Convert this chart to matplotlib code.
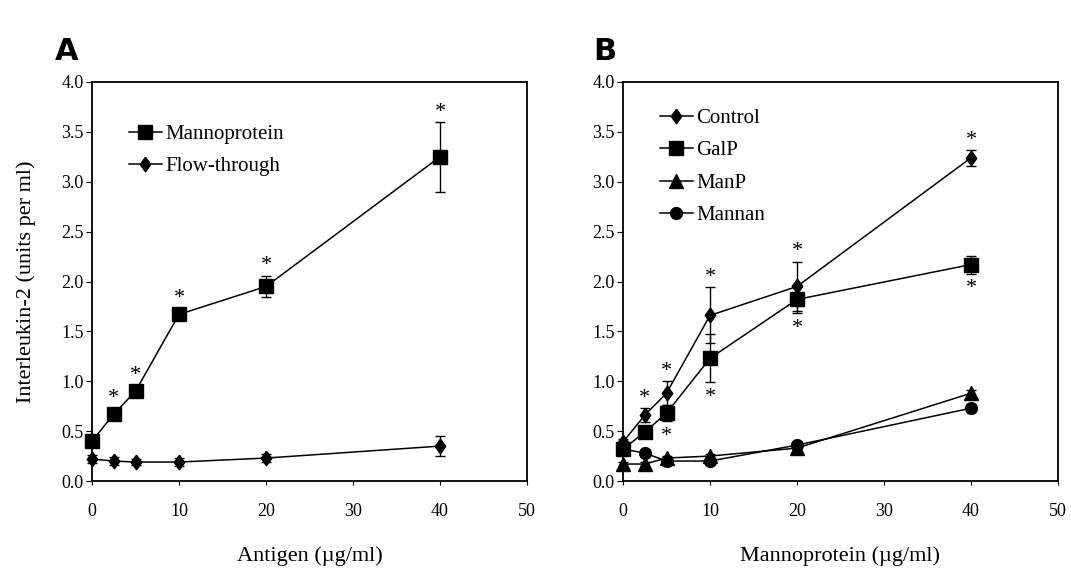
import matplotlib
matplotlib.use("Agg")
from matplotlib import pyplot as plt
from matplotlib import font_manager

conc = [0, 2.5, 5, 10, 20, 40]

# panel A
manno = [0.40, 0.67, 0.90, 1.67, 1.95, 3.25]
manno_err = [0.03, 0.04, 0.05, 0.03, 0.11, 0.35]
flow = [0.22, 0.20, 0.19, 0.19, 0.23, 0.35]
flow_err = [0.04, 0.04, 0.03, 0.04, 0.04, 0.10]
manno_star = [1, 2, 3, 4, 5]

# panel B
control = [0.39, 0.66, 0.88, 1.66, 1.95, 3.24]
control_err = [0.03, 0.07, 0.12, 0.28, 0.25, 0.08]
galp = [0.32, 0.49, 0.68, 1.23, 1.82, 2.17]
galp_err = [0.03, 0.04, 0.08, 0.24, 0.14, 0.09]
manp = [0.17, 0.17, 0.23, 0.25, 0.33, 0.88]
manp_err = [0.02, 0.02, 0.02, 0.02, 0.03, 0.03]
mannan = [0.32, 0.28, 0.20, 0.20, 0.36, 0.73]
mannan_err = [0.02, 0.03, 0.02, 0.03, 0.03, 0.04]
control_star = [1, 2, 3, 4, 5]
galp_star = [2, 3, 4, 5]

yticks = [0.0, 0.5, 1.0, 1.5, 2.0, 2.5, 3.0, 3.5, 4.0]
xticks = [0, 10, 20, 30, 40, 50]

plt.rcParams["font.family"] = ["Liberation Serif", "DejaVu Serif"]

# condensed bold sans for the panel letters, if there is one
names = {f.name for f in font_manager.fontManager.ttflist}
LETTER_FONT = ["Liberation Sans Narrow"] if "Liberation Sans Narrow" in names else ["DejaVu Sans"]

DIAMOND = [(0, 1), (0.72, 0), (0, -1), (-0.72, 0), (0, 1)]


def series(ax, y, err, marker, ms, label):
    ax.errorbar(conc, y, yerr=err, color="black", lw=1.1, marker=marker,
                ms=ms, capsize=3.5, elinewidth=1.0, capthick=1.0,
                label=label, clip_on=False)


def stars(ax, y, err, idx, above=True):
    for i in idx:
        if above:
            yy = max(y[i] + err[i], y[i] + 0.06)
            off = 7
        else:
            yy = min(y[i] - err[i], y[i] - 0.06)
            off = -11
        ax.annotate("*", (conc[i], yy), xytext=(0, off),
                    textcoords="offset points", ha="center", va="center",
                    fontsize=16)


def style(ax, xlabel, legend_at):
    ax.set_xlim(0, 50)
    ax.set_ylim(0, 4.0)
    ax.set_xticks(xticks)
    ax.set_yticks(yticks)
    ax.set_yticklabels([f"{v:.1f}" for v in yticks])
    ax.tick_params(axis="x", direction="out", length=3, pad=13, labelsize=13)
    ax.tick_params(axis="y", direction="out", length=4, pad=2, labelsize=13)
    for s in ax.spines.values():
        s.set_linewidth(1.3)
    ax.set_xlabel(xlabel, fontsize=16, labelpad=19)
    handles, labels = ax.get_legend_handles_labels()
    handles = [h[0] for h in handles]
    ax.legend(handles, labels, loc="upper left", bbox_to_anchor=legend_at,
              frameon=False, fontsize=15, handlelength=1.6,
              handletextpad=0.15, labelspacing=0.62, borderaxespad=0)


fig = plt.figure(figsize=(10.71, 5.70), dpi=100)
axA = fig.add_axes([92 / 1071, 89 / 570, 435 / 1071, 399 / 570])
axB = fig.add_axes([623 / 1071, 89 / 570, 435 / 1071, 399 / 570])

series(axA, manno, manno_err, "s", 9.5, "Mannoprotein")
series(axA, flow, flow_err, DIAMOND, 10.5, "Flow-through")
stars(axA, manno, manno_err, manno_star)
style(axA, "Antigen (\u00b5g/ml)", (0.065, 0.915))
axA.set_ylabel("Interleukin-2 (units per ml)", fontsize=16, labelpad=18)

series(axB, control, control_err, DIAMOND, 10.5, "Control")
series(axB, galp, galp_err, "s", 9.5, "GalP")
series(axB, manp, manp_err, "^", 9.5, "ManP")
series(axB, mannan, mannan_err, "o", 8.5, "Mannan")
stars(axB, control, control_err, control_star)
stars(axB, galp, galp_err, galp_star, above=False)
style(axB, "Mannoprotein (\u00b5g/ml)", (0.065, 0.955))

fig.text(67 / 1071, 1 - 52 / 570, "A", fontsize=22, fontweight="bold",
         family=LETTER_FONT, ha="center", va="center")
fig.text(605 / 1071, 1 - 52 / 570, "B", fontsize=22, fontweight="bold",
         family=LETTER_FONT, ha="center", va="center")

fig.savefig("out.png", dpi=100)
